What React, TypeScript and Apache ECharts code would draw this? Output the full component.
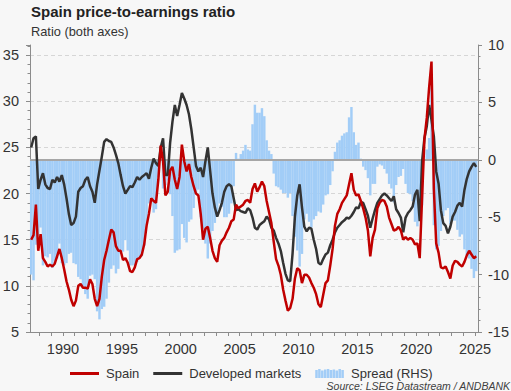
import React, { useEffect, useRef } from 'react';
import * as echarts from 'echarts';

// Sampling grid: first observation and spacing (in years)
const START_YEAR = 1987.3;
const STEP = 0.2;

// Spain price-to-earnings ratio (LHS)
const spain: number[] = [
  15.0, 15.5, 18.8, 13.8, // 1987 (.3 .5 .7 .9)
  15.6, 13.0, 12.6, 12.1, 12.3, // 1988
  12.1, 12.4, 13.2, 14.0, 13.0, // 1989
  11.8, 10.5, 9.6, 8.5, 7.8, // 1990
  8.4, 10.0, 10.2, 9.8, 9.8, // 1991
  9.7, 10.7, 10.2, 8.6, 7.8, // 1992
  8.6, 11.0, 12.8, 13.8, 15.0, // 1993
  16.1, 15.8, 14.3, 13.8, 13.8, // 1994
  12.8, 13.0, 12.5, 11.6, 11.5, // 1995
  12.0, 12.9, 13.0, 13.4, 14.5, // 1996
  16.5, 17.8, 19.5, 19.2, 19.0, // 1997
  21.5, 25.2, 23.5, 19.8, 20.2, // 1998
  22.5, 22.9, 21.5, 20.5, 21.8, // 1999
  25.3, 23.5, 22.4, 23.2, 21.8, // 2000
  20.8, 20.0, 19.8, 17.8, 15.0, // 2001
  16.2, 16.4, 15.2, 13.8, 13.0, // 2002
  12.6, 14.4, 14.9, 15.2, 15.8, // 2003
  16.3, 17.0, 17.2, 18.8, 18.4, // 2004
  18.6, 18.8, 19.2, 19.3, 19.0, // 2005
  20.5, 21.1, 20.2, 20.7, 21.3, // 2006
  20.8, 19.2, 18.0, 16.8, 14.8, // 2007
  12.9, 12.2, 11.2, 9.6, 8.4, // 2008
  7.3, 7.6, 8.6, 10.8, 11.9, // 2009
  11.7, 10.3, 11.2, 11.2, 10.9, // 2010
  10.3, 9.8, 9.1, 8.0, 7.7, // 2011
  9.0, 10.3, 10.6, 12.2, 14.0, // 2012
  16.5, 17.8, 18.3, 19.0, 19.4, // 2013
  19.8, 21.0, 22.2, 20.4, 19.8, // 2014
  19.9, 19.2, 18.4, 17.4, 16.0, // 2015
  13.2, 15.2, 16.1, 18.4, 19.0, // 2016
  19.3, 19.2, 18.6, 17.4, 16.7, // 2017
  16.0, 16.1, 16.4, 16.0, 15.0, // 2018
  15.3, 15.0, 15.2, 15.0, 14.5, // 2019
  14.6, 13.0, 19.5, 25.9, 28.2, // 2020
  31.5, 34.3, 20.5, 14.6, 13.6, // 2021
  12.0, 11.9, 12.1, 11.5, 10.8, // 2022
  12.2, 12.7, 12.6, 12.3, 12.1, // 2023
  12.6, 13.3, 13.8, 13.4, 13.0, // 2024
  13.2, // 2025
];

// Developed markets price-to-earnings ratio (LHS)
const developed: number[] = [
  25.0, 26.0, 26.2, 20.5, // 1987
  21.5, 22.2, 21.0, 20.6, 20.5, // 1988
  21.5, 21.2, 21.8, 21.3, 22.0, // 1989
  21.0, 19.5, 17.8, 16.6, 16.8, // 1990
  17.5, 20.2, 20.6, 20.8, 21.5, // 1991
  21.8, 20.8, 20.2, 19.0, 21.0, // 1992
  22.5, 24.0, 25.6, 25.9, 25.7, // 1993
  25.6, 25.0, 24.2, 23.3, 22.0, // 1994
  20.8, 20.0, 20.4, 20.8, 20.7, // 1995
  21.2, 21.8, 21.5, 21.8, 22.0, // 1996
  22.2, 21.6, 22.8, 23.8, 23.3, // 1997
  23.0, 25.0, 26.0, 22.0, 22.0, // 1998
  25.5, 27.8, 29.6, 28.4, 29.6, // 1999
  30.9, 30.3, 29.6, 28.6, 27.0, // 2000
  25.0, 23.0, 22.4, 22.8, 21.8, // 2001
  23.5, 25.0, 22.5, 20.0, 18.5, // 2002
  17.5, 18.2, 19.0, 20.2, 20.8, // 2003
  21.0, 20.8, 19.5, 18.2, 18.3, // 2004
  18.1, 18.0, 17.9, 18.4, 18.2, // 2005
  17.4, 16.3, 16.1, 16.6, 16.8, // 2006
  17.0, 17.5, 17.2, 16.3, 16.0, // 2007
  15.2, 14.6, 13.8, 12.5, 11.3, // 2008
  10.6, 10.5, 13.5, 17.5, 19.8, // 2009
  21.0, 18.5, 16.4, 15.9, 16.3, // 2010
  16.2, 15.0, 14.0, 12.5, 12.3, // 2011
  12.9, 13.4, 13.6, 14.4, 15.0, // 2012
  15.8, 16.3, 16.6, 16.9, 17.1, // 2013
  17.4, 17.3, 17.6, 18.0, 18.5, // 2014
  18.4, 19.1, 19.0, 18.3, 17.6, // 2015
  16.3, 17.3, 18.2, 19.0, 19.4, // 2016
  19.8, 20.0, 19.8, 19.5, 19.2, // 2017
  19.7, 18.3, 17.9, 17.4, 15.8, // 2018
  17.4, 17.9, 18.2, 18.6, 19.9, // 2019
  20.4, 17.0, 23.5, 26.0, 27.3, // 2020
  29.6, 28.0, 26.2, 22.4, 21.1, // 2021
  18.2, 16.8, 16.5, 15.7, 16.4, // 2022
  17.5, 18.0, 18.7, 19.0, 18.6, // 2023
  20.4, 21.6, 22.4, 22.9, 23.3, // 2024
  22.9, // 2025
];

const xLabelYears = [1990, 1995, 2000, 2005, 2010, 2015, 2020, 2025];
const xTickYears = [
  1988, 1989, 1990, 1991, 1992, 1993, 1994, 1995, 1996, 1997, 1998, 1999, 2000,
  2001, 2002, 2003, 2004, 2005, 2006, 2007, 2008, 2009, 2010, 2011, 2012, 2013,
  2014, 2015, 2016, 2017, 2018, 2019, 2020, 2021, 2022, 2023, 2024, 2025,
];

const FONT = "'Liberation Sans', Arial, Helvetica, sans-serif";
const AXIS_GREY = '#8c8c8c';
const TEXT = '#333333';

const LINE_ICON = 'path://M0,0h29v3h-29z';
const SPREAD_ICON =
  'path://M0,1h2.5v8h-2.5zM2.9,0h2.5v9h-2.5zM5.8,1.5h2.5v7.5h-2.5zM8.7,0.5h2.5v8.5h-2.5zM11.6,0h2.5v9h-2.5zM14.5,1h2.5v8h-2.5zM17.4,0.5h2.5v8.5h-2.5zM20.3,1.5h2.5v7.5h-2.5zM23.2,0h2.5v9h-2.5zM26.1,1h2.5v8h-2.5z';

export default function App() {
  const ref = useRef<HTMLDivElement>(null);

  useEffect(() => {
    if (!ref.current) return;
    const chart = echarts.init(ref.current, undefined, { renderer: 'svg' });

    const years = spain.map((_, i) => +(START_YEAR + i * STEP).toFixed(1));
    const spainData = years.map((y, i) => [y, spain[i]]);
    const dmData = years.map((y, i) => [y, developed[i]]);
    const spreadData = years.map((y, i) => [y, +(spain[i] - developed[i]).toFixed(2)]);

    const option: any = {
      animation: false,
      backgroundColor: '#f7f7f7',
      textStyle: { fontFamily: FONT },
      title: [
        {
          text: 'Spain price-to-earnings ratio',
          left: 31,
          top: 4,
          padding: 0,
          textStyle: { fontFamily: FONT, fontSize: 15, fontWeight: 'bold', color: '#222222' },
        },
        {
          text: 'Ratio (both axes)',
          left: 31,
          top: 25,
          padding: 0,
          textStyle: { fontFamily: FONT, fontSize: 12.8, fontWeight: 'normal', color: TEXT },
        },
      ],
      grid: { left: 30, right: 33, top: 45, bottom: 59, containLabel: false, outerBoundsMode: 'none' },
      legend: {
        left: 65,
        top: 362,
        orient: 'horizontal',
        itemWidth: 29,
        itemHeight: 9,
        itemGap: 14,
        symbolKeepAspect: true,
        textStyle: { fontFamily: FONT, fontSize: 13, color: TEXT, padding: [0, 0, 0, 2] },
        data: [
          { name: 'Spain', icon: LINE_ICON },
          { name: 'Developed markets', icon: LINE_ICON },
          { name: 'Spread (RHS)', icon: SPREAD_ICON },
        ],
      },
      xAxis: {
        type: 'value',
        min: 1987.2,
        max: 2025.25,
        axisLine: { show: true, onZero: false, lineStyle: { color: AXIS_GREY, width: 1 } },
        axisTick: { show: true, length: 4, lineStyle: { color: AXIS_GREY }, customValues: xTickYears },
        axisLabel: {
          customValues: xLabelYears,
          fontFamily: FONT,
          fontSize: 14.5,
          color: TEXT,
          margin: 9,
          formatter: (v: number) => String(Math.round(v)),
        },
        splitLine: { show: false },
      },
      yAxis: [
        {
          type: 'value',
          position: 'left',
          min: 5,
          max: 36.1,
          interval: 5,
          axisLine: { show: true, lineStyle: { color: AXIS_GREY, width: 1 } },
          axisTick: { show: true, length: 4, lineStyle: { color: AXIS_GREY } },
          minorTick: { show: true, splitNumber: 5, length: 2.5, lineStyle: { color: AXIS_GREY } },
          axisLabel: {
            fontFamily: FONT,
            fontSize: 14.5,
            color: TEXT,
            margin: 11,
            formatter: (v: number) => (Math.abs(v % 5) < 1e-9 ? String(v) : ''),
          },
          splitLine: {
            show: true,
            showMinLine: false,
            showMaxLine: false,
            lineStyle: { color: '#d6d6d6', type: [4, 3], width: 1 },
          },
        },
        {
          type: 'value',
          position: 'right',
          min: -15,
          max: 10,
          interval: 5,
          axisLine: { show: true, lineStyle: { color: AXIS_GREY, width: 1 } },
          axisTick: { show: true, length: 4, lineStyle: { color: AXIS_GREY } },
          minorTick: { show: true, splitNumber: 5, length: 2.5, lineStyle: { color: AXIS_GREY } },
          axisLabel: { fontFamily: FONT, fontSize: 14.5, color: TEXT, margin: 10 },
          splitLine: { show: false },
        },
      ],
      series: [
        {
          name: 'Spread (RHS)',
          type: 'bar',
          xAxisIndex: 0,
          yAxisIndex: 1,
          data: spreadData,
          barWidth: 2.45,
          itemStyle: { color: '#a2cdf7' },
          z: 1,
          markLine: {
            silent: true,
            z: 2,
            symbol: ['none', 'none'],
            label: { show: false },
            lineStyle: { color: '#a6a6a6', width: 2, type: 'solid' },
            data: [{ yAxis: 0 }],
          },
        },
        {
          name: 'Developed markets',
          type: 'line',
          xAxisIndex: 0,
          yAxisIndex: 0,
          data: dmData,
          symbol: 'none',
          lineStyle: { color: '#333333', width: 2.5 },
          itemStyle: { color: '#333333' },
          z: 3,
        },
        {
          name: 'Spain',
          type: 'line',
          xAxisIndex: 0,
          yAxisIndex: 0,
          data: spainData,
          symbol: 'none',
          lineStyle: { color: '#c00000', width: 2.5 },
          itemStyle: { color: '#c00000' },
          z: 4,
        },
      ],
      graphic: [
        {
          type: 'text',
          x: 510,
          y: 386,
          style: {
            text: 'Source: LSEG Datastream / ANDBANK',
            align: 'right',
            verticalAlign: 'middle',
            textAlign: 'right',
            textVerticalAlign: 'middle',
            fontFamily: FONT,
            fontSize: 10.5,
            fontStyle: 'italic',
            fill: '#404040',
          },
        },
      ],
    };

    chart.setOption(option);
    return () => chart.dispose();
  }, []);

  return (
    <div
      ref={ref}
      style={{ position: 'fixed', left: 0, top: 0, width: 511, height: 391 }}
    />
  );
}
